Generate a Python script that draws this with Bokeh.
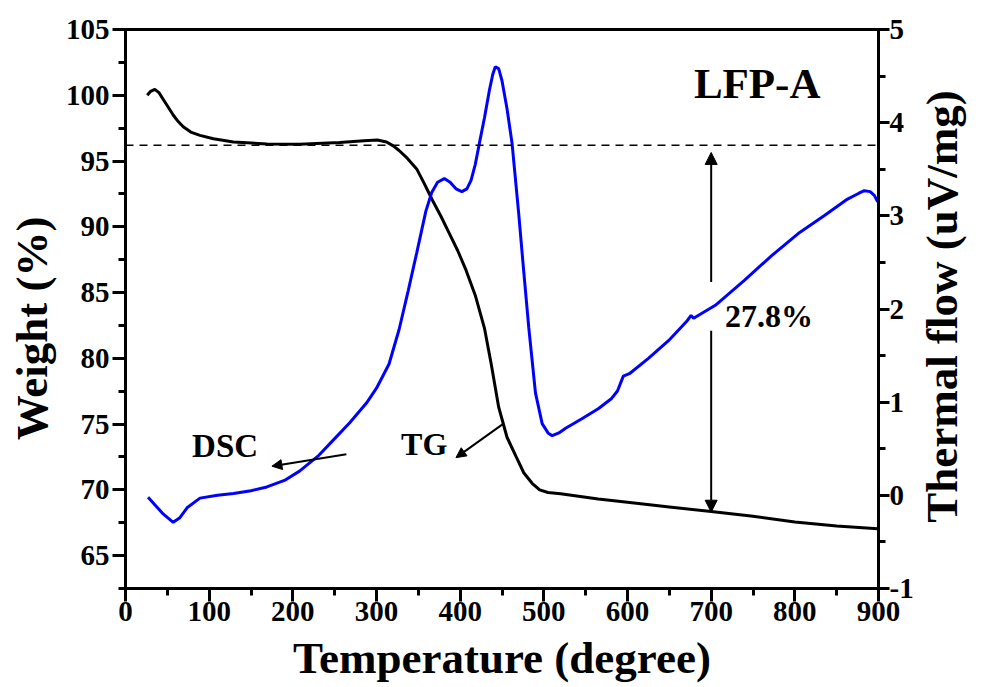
import math
from bokeh.plotting import figure
from bokeh.layouts import row
from bokeh.models import Range1d, LinearAxis, FixedTicker, Span, Arrow, NormalHead, Label
from bokeh.embed import file_html
from bokeh.resources import INLINE

FONT = "Liberation Serif"

# ---- data ----
tg_temp = [26, 30, 35, 40, 45, 50, 57, 63, 69, 78, 89, 105, 129, 169, 208, 256, 285, 301,
           312, 320, 327, 337, 348, 357, 367, 377, 387, 397, 407, 418, 429, 437, 446, 456,
           467, 476, 486, 495, 505, 520, 565, 600, 650, 700, 750, 800, 850, 899]
tg_weight = [100.0, 100.3, 100.45, 100.2, 99.7, 99.2, 98.5, 98.0, 97.6, 97.2, 96.95, 96.7,
             96.45, 96.3, 96.28, 96.4, 96.55, 96.6, 96.45, 96.15, 95.8, 95.2, 94.4, 93.3,
             92.0, 90.8, 89.5, 88.2, 86.7, 84.8, 82.3, 79.6, 76.3, 74.0, 72.5, 71.3, 70.5,
             70.0, 69.8, 69.7, 69.3, 69.05, 68.7, 68.35, 68.0, 67.55, 67.25, 67.05]

dsc_temp = [27, 35, 45, 57, 65, 74, 89, 110, 129, 150, 169, 190, 208, 230, 248, 268, 288,
            300, 315, 327, 338, 348, 359, 366, 373, 381, 388, 395, 402, 408, 413, 418, 423,
            429, 435, 439, 442, 446, 450, 456, 462, 470, 476, 482, 490, 498, 505, 510, 518,
            526, 545, 565, 581, 588, 595, 603, 625, 649, 670, 676, 679, 705, 740, 772, 804,
            835, 863, 876, 883, 890, 895, 899]
dsc_flow = [-0.02, -0.10, -0.20, -0.29, -0.24, -0.13, -0.03, 0.0, 0.02, 0.05, 0.09, 0.16,
            0.26, 0.42, 0.59, 0.78, 0.99, 1.15, 1.41, 1.78, 2.2, 2.6, 3.05, 3.25, 3.36, 3.40,
            3.36, 3.29, 3.26, 3.29, 3.38, 3.55, 3.78, 4.05, 4.35, 4.52, 4.60, 4.58, 4.45,
            4.15, 3.78, 3.02, 2.4, 1.80, 1.10, 0.77, 0.67, 0.64, 0.67, 0.72, 0.82, 0.93, 1.04,
            1.12, 1.28, 1.31, 1.47, 1.66, 1.86, 1.93, 1.90, 2.04, 2.31, 2.57, 2.81, 3.0, 3.18,
            3.24, 3.27, 3.26, 3.22, 3.15]

x_ticks = [0, 100, 200, 300, 400, 500, 600, 700, 800, 900]
x_minor = [50, 150, 250, 350, 450, 550, 650, 750, 850]
w_ticks = [65, 70, 75, 80, 85, 90, 95, 100, 105]
w_minor = [62.5, 67.5, 72.5, 77.5, 82.5, 87.5, 92.5, 97.5, 102.5]
f_ticks = [-1, 0, 1, 2, 3, 4, 5]
f_minor = [-0.5, 0.5, 1.5, 2.5, 3.5, 4.5]

x_title = "Temperature (degree)"
left_title = "Weight (%)"
right_title = "Thermal flow (uV/mg)"

initial_weight = 96.2      # dashed reference level
loss_temp = 700            # where the 27.8% arrow sits
loss_up = (85.8, 95.65)
loss_down = (82.1, 68.3)
loss_text = "27.8%"

dsc_arrow = (264, 72.7, 175, 71.8)
tg_arrow = (451, 75.0, 395, 72.45)

H = 687
LEFT_W = 60
MAIN_W = 65 + 755 + 36
RIGHT_W = 989 - LEFT_W - MAIN_W

# ---- main figure ----
p = figure(width=MAIN_W, height=H, output_backend="svg", toolbar_location=None,
           x_range=Range1d(0, 900), y_range=Range1d(62.5, 105),
           min_border_left=65, min_border_right=36, min_border_top=29,
           min_border_bottom=99, background_fill_color="white", border_fill_color="white")
p.extra_y_ranges = {"dsc": Range1d(-1, 5)}
p.grid.visible = False
p.outline_line_color = "black"
p.outline_line_width = 3


def style(ax):
    ax.axis_line_width = 3
    ax.axis_line_color = "black"
    ax.major_tick_line_width = 3
    ax.minor_tick_line_width = 3
    ax.major_tick_out = 13
    ax.major_tick_in = 0
    ax.minor_tick_out = 7
    ax.minor_tick_in = 0
    ax.major_label_text_font = FONT
    ax.major_label_text_font_style = "bold"
    ax.major_label_text_font_size = "29px"
    ax.major_label_text_color = "black"


xa = p.xaxis[0]
xa.ticker = FixedTicker(ticks=x_ticks, minor_ticks=x_minor)
style(xa)
xa.major_label_standoff = 0
xa.axis_label = x_title
xa.axis_label_text_font = FONT
xa.axis_label_text_font_style = "bold"
xa.axis_label_text_font_size = "45px"
xa.axis_label_text_color = "black"
xa.axis_label_standoff = 9

ya = p.yaxis[0]
ya.ticker = FixedTicker(ticks=w_ticks, minor_ticks=w_minor)
style(ya)
ya.major_label_standoff = 3

ra = LinearAxis(y_range_name="dsc", ticker=FixedTicker(ticks=f_ticks, minor_ticks=f_minor))
style(ra)
ra.major_tick_out = 11
ra.major_label_standoff = 0
ra.major_label_overrides = {-1: "-1"}
p.add_layout(ra, "right")

# curves
p.line(tg_temp, tg_weight, line_color="black", line_width=3)
p.line(dsc_temp, dsc_flow, line_color="#0000FF", line_width=3, y_range_name="dsc")

# dashed level
p.add_layout(Span(location=initial_weight, dimension="width", line_color="black",
                  line_width=1.5, line_dash="8 6"))


def arrow(x0, y0, x1, y1, size=12, lw=2):
    p.add_layout(Arrow(end=NormalHead(size=size, fill_color="black", line_color="black",
                                      line_width=1),
                       x_start=x0, y_start=y0, x_end=x1, y_end=y1,
                       line_color="black", line_width=lw))


arrow(loss_temp, loss_up[0], loss_temp, loss_up[1])
arrow(loss_temp, loss_down[0], loss_temp, loss_down[1])
arrow(*dsc_arrow, size=10)
arrow(*tg_arrow, size=10)


def label(fig, x, y, text, size, angle=0.0):
    fig.add_layout(Label(x=x, y=y, text=text, text_font=FONT, text_font_style="bold",
                         text_font_size=size, text_color="black", text_align="center",
                         text_baseline="middle", angle=angle))


label(p, 755, 100.9, "LFP-A", "43px")
label(p, 769, 83.25, loss_text, "32px")
label(p, 119, 73.3, "DSC", "33px")
label(p, 357, 73.5, "TG", "32px")


# ---- side strips holding the rotated axis titles (pixel-like ranges) ----
def strip(w):
    f = figure(frame_width=w, frame_height=H, output_backend="svg", toolbar_location=None,
               title=None, x_range=Range1d(0, w), y_range=Range1d(0, H),
               x_axis_type=None, y_axis_type=None,
               min_border_left=0, min_border_right=0, min_border_top=0, min_border_bottom=0,
               background_fill_color="white", border_fill_color="white")
    f.grid.visible = False
    f.outline_line_color = None
    return f


pl = strip(LEFT_W)
label(pl, 31, H - 299, left_title, "45px", math.pi / 2)

pr = strip(RIGHT_W)
label(pr, 25, H - 277, right_title, "45px", math.pi / 2)

layout = row(pl, p, pr, spacing=0)

open("out.html", "w").write(file_html(layout, INLINE))
